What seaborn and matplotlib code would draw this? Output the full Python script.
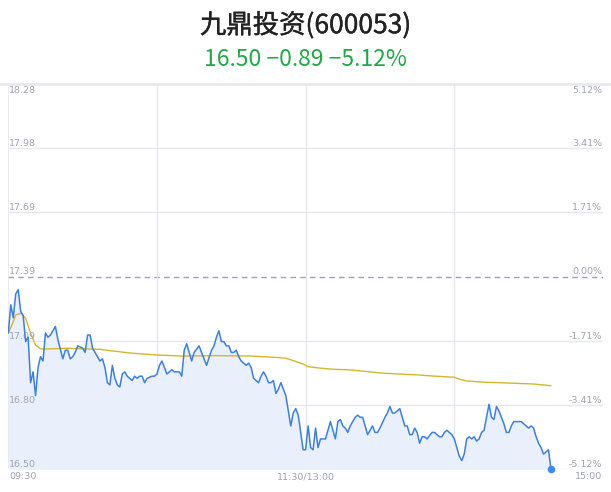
import numpy as np
import pandas as pd
import matplotlib
matplotlib.use("Agg")
import matplotlib.pyplot as plt
from matplotlib.lines import Line2D
import matplotlib.patheffects as pe
import seaborn as sns

# ---------------- data ----------------
stock_title = "九鼎投资(600053)"
quote_text = "16.50 −0.89 −5.12%"
prev_close = 17.39

left_labels = ["18.28", "17.98", "17.69", "17.39", "17.09", "16.80", "16.50"]
right_labels = ["5.12%", "3.41%", "1.71%", "0.00%", "-1.71%", "-3.41%", "-5.12%"]
pct_levels = [5.12, 3.41, 1.71, 0.00, -1.71, -3.41, -5.12]
time_labels = ["09:30", "11:30/13:00", "15:00"]
time_label_minutes = [0, 120, 240]
vgrid_minutes = [60, 120, 180]

price_minutes = [
    0, 1, 2, 3, 4, 5, 6, 7, 8, 9, 10, 11, 12, 13, 14, 15, 16, 17, 19, 20,
    22, 23, 24, 25, 26, 27, 28, 30, 31, 32, 33, 34, 36, 37, 38, 39, 40, 41, 42, 43,
    44, 45, 46, 47, 48, 50, 51, 52, 53, 54, 55, 56, 58, 59, 60, 61, 62, 63, 64, 66,
    67, 69, 70, 71, 72, 73, 74, 75, 77, 78, 80, 82, 83, 84, 85, 86, 87, 88, 89, 90,
    91, 92, 93, 94, 95, 96, 97, 98, 99, 101, 102, 103, 104, 105, 106, 107, 108, 109, 110, 111,
    112, 113, 114, 115, 116, 117, 118, 119, 120, 121, 122, 123, 124, 125, 126, 127, 128, 130, 131, 132,
    133, 134, 135, 136, 137, 138, 139, 140, 141, 142, 143, 144, 145, 146, 147, 148, 149, 150, 152, 153,
    154, 155, 156, 157, 158, 159, 160, 161, 162, 163, 164, 165, 166, 167, 168, 169, 171, 172, 173, 174,
    175, 176, 177, 178, 179, 180, 181, 182, 183, 184, 185, 186, 187, 188, 189, 190, 191, 192, 193, 194,
    195, 196, 197, 198, 199, 200, 201, 202, 203, 204, 206, 207, 209, 210, 211, 212, 213, 214, 215, 216,
    217, 218, 219,
]
price_values = [
    17.13, 17.26, 17.20, 17.31, 17.33, 17.23, 17.21, 17.09, 17.11, 16.90, 16.95, 16.84, 16.97, 17.02, 17.00, 17.13, 17.11, 17.12, 17.16, 17.10,
    17.01, 17.05, 17.05, 17.01, 17.02, 17.04, 17.07, 17.06, 17.04, 17.12, 17.12, 17.06, 17.02, 17.00, 17.01, 16.97, 16.90, 16.89, 16.98, 16.92,
    16.89, 16.88, 16.94, 16.95, 16.93, 16.91, 16.93, 16.92, 16.93, 16.93, 16.90, 16.92, 16.93, 16.93, 16.94, 16.98, 17.00, 16.97, 16.94, 16.96,
    16.95, 16.95, 16.93, 17.05, 17.08, 17.04, 17.00, 17.04, 17.07, 17.04, 16.98, 17.05, 17.07, 17.11, 17.14, 17.09, 17.09, 17.07, 17.07, 17.04,
    17.04, 17.05, 17.02, 17.00, 16.99, 16.98, 16.99, 16.97, 16.92, 16.90, 16.93, 16.95, 16.93, 16.90, 16.90, 16.91, 16.85, 16.87, 16.90, 16.87,
    16.84, 16.77, 16.70, 16.76, 16.78, 16.75, 16.67, 16.59, 16.59, 16.70, 16.60, 16.59, 16.69, 16.60, 16.64, 16.64, 16.64, 16.72, 16.68, 16.64,
    16.72, 16.73, 16.70, 16.69, 16.67, 16.70, 16.72, 16.74, 16.75, 16.74, 16.74, 16.70, 16.66, 16.68, 16.70, 16.67, 16.67, 16.69, 16.74, 16.76,
    16.79, 16.76, 16.76, 16.77, 16.78, 16.74, 16.70, 16.70, 16.66, 16.66, 16.69, 16.67, 16.62, 16.65, 16.65, 16.64, 16.67, 16.67, 16.66, 16.65,
    16.65, 16.67, 16.68, 16.67, 16.66, 16.64, 16.60, 16.56, 16.54, 16.57, 16.64, 16.65, 16.64, 16.65, 16.63, 16.64, 16.67, 16.68, 16.74, 16.80,
    16.74, 16.73, 16.79, 16.77, 16.74, 16.71, 16.67, 16.67, 16.70, 16.72, 16.72, 16.72, 16.70, 16.69, 16.70, 16.69, 16.65, 16.62, 16.60, 16.57,
    16.58, 16.59, 16.50,
]

avg_minutes = [0, 2, 3, 5, 7, 9, 11, 13, 16, 24, 37, 41, 50, 60, 70, 84, 98, 108, 112, 115, 119,
               121, 126, 131, 138, 145, 151, 158, 165, 171, 180, 182, 185, 192, 198, 205, 212, 219]
avg_values = [17.128, 17.182, 17.213, 17.221, 17.198, 17.128, 17.074, 17.056, 17.056, 17.059, 17.054, 17.048,
              17.036, 17.028, 17.023, 17.025, 17.023, 17.017, 17.013, 17.002, 16.986,
              16.974, 16.967, 16.962, 16.959, 16.951, 16.944, 16.940, 16.936, 16.931, 16.925, 16.916,
              16.908, 16.902, 16.900, 16.897, 16.894, 16.886]

price_df = pd.DataFrame({"minute": price_minutes, "price": price_values})
avg_df = pd.DataFrame({"minute": avg_minutes, "avg": avg_values})

# ---------------- style ----------------
sns.set_style("white")
plt.rcParams["font.family"] = ["Noto Sans CJK SC", "DejaVu Sans"]

W, H = 611, 492
fig = plt.figure(figsize=(W / 100, H / 100), dpi=100)
ax = fig.add_axes([8.3 / W, 22.7 / H, 594.7 / W, 385.3 / H])

levels = [prev_close * (1 + p / 100) for p in pct_levels]
ax.set_xlim(0, 240)
ax.set_ylim(min(levels), max(levels))

grid_c = "#e6e7ee"
lab_c = "#9ea2b2"
for lv, pc in zip(levels, pct_levels):
    if pc == 0:
        ax.axhline(lv, color="#9aa0b6", lw=1, dashes=(4, 3), zorder=1)
    elif pc != max(pct_levels):
        ax.axhline(lv, color=grid_c, lw=1, zorder=1)
for vm in vgrid_minutes:
    ax.axvline(vm, color=grid_c, lw=1, zorder=1)
ax.axvline(0, color=grid_c, lw=1.2, zorder=1)

# top border across figure
top_y = 1 - 84 / H
fig.add_artist(Line2D([0, 1], [top_y, top_y], transform=fig.transFigure,
                      color="#e8e8ee", lw=2))

# fill + lines
ax.fill_between(price_df["minute"], price_df["price"], min(levels),
                color="#e9f0fc", zorder=2, lw=0)
sns.lineplot(data=avg_df, x="minute", y="avg", ax=ax, color="#d5b62c",
             lw=1.0, zorder=3)
sns.lineplot(data=price_df, x="minute", y="price", ax=ax, color="#3b7fe3",
             lw=1.1, zorder=4)
ax.scatter([price_minutes[-1]], [price_values[-1]], s=30, color="#3a8cf5",
           zorder=6, clip_on=False, lw=0)

for sp in ax.spines.values():
    sp.set_visible(False)
ax.set_xticks([])
ax.set_yticks([])
ax.set_xlabel("")
ax.set_ylabel("")

# axis labels as text
fs = 6.8
for i, (lv, ltxt, rtxt) in enumerate(zip(levels, left_labels, right_labels)):
    if i == 0:
        va, dy = "top", -1.5
    else:
        va, dy = "bottom", 0.2
    ax.annotate(ltxt, xy=(0, lv), xycoords=("axes fraction", "data"),
                xytext=(0.8, dy), textcoords="offset points", ha="left", va=va,
                fontsize=fs, color=lab_c, family="DejaVu Sans")
    ax.annotate(rtxt, xy=(1, lv), xycoords=("axes fraction", "data"),
                xytext=(-0.6, dy), textcoords="offset points", ha="right", va=va,
                fontsize=fs, color=lab_c, family="DejaVu Sans")

for tm, txt in zip(time_label_minutes, time_labels):
    ha = "left" if tm == 0 else ("right" if tm == 240 else "center")
    dx = 0.8 if tm == 0 else (-0.6 if tm == 240 else 0)
    ax.annotate(txt, xy=(tm, 0), xycoords=("data", "axes fraction"),
                xytext=(dx, -2.0), textcoords="offset points", ha=ha, va="top",
                fontsize=fs, color=lab_c, family="DejaVu Sans")

fig.text(0.5, 1 - 25.5 / H, stock_title, ha="center", va="center",
         fontsize=19, color="#222222",
         path_effects=[pe.withStroke(linewidth=0.25, foreground="#222222")])
fig.text(0.5, 1 - 60 / H, quote_text, ha="center", va="center",
         fontsize=16.5, color="#1faa46")

fig.savefig("out.png", dpi=100)
